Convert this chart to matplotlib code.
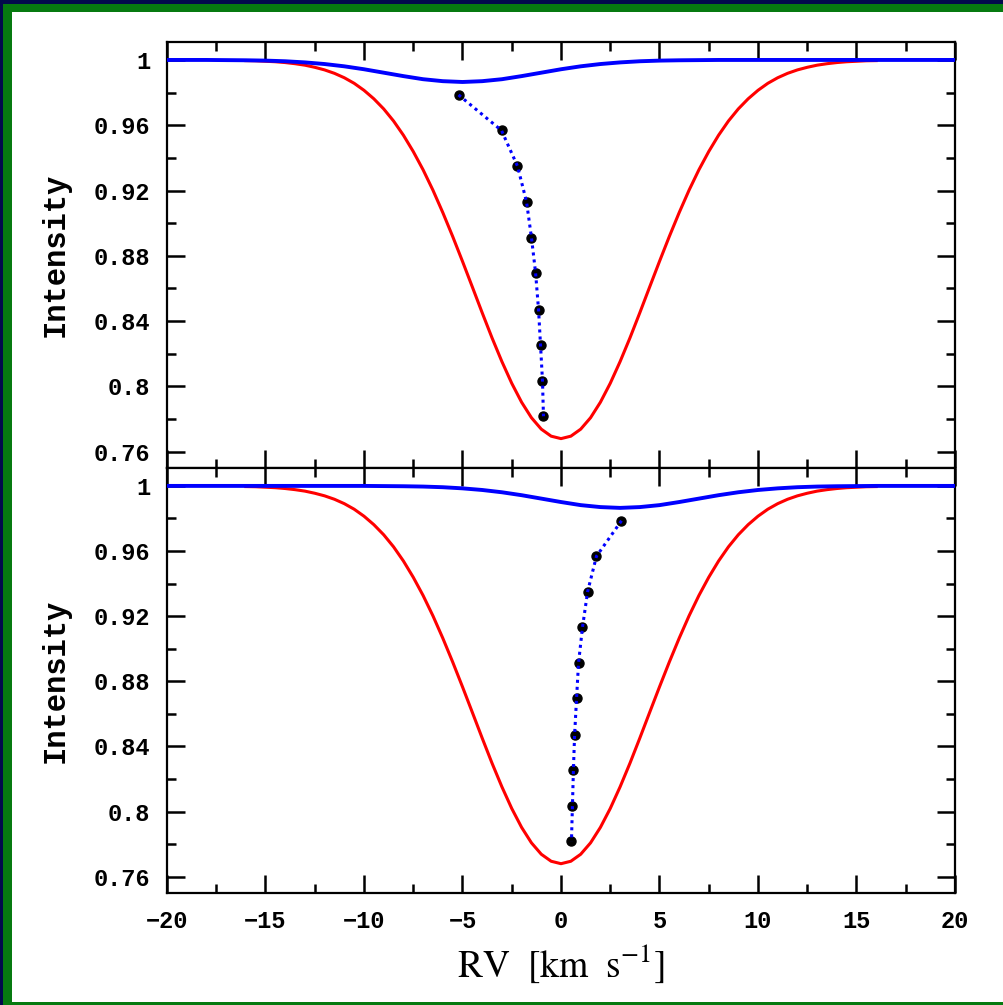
import numpy as np
import matplotlib
matplotlib.use('Agg')
import matplotlib.pyplot as plt
from matplotlib.patches import Rectangle
from matplotlib.ticker import MultipleLocator

# model line profile (red), sampled every 0.5 km/s from -16 to 16
rv_red = np.arange(-16, 16.25, 0.5)
red_int = [0.9996, 0.9995, 0.9992, 0.9989, 0.9984, 0.9977, 0.9968, 0.9955,
           0.9939, 0.9918, 0.9891, 0.9857, 0.9814, 0.9762, 0.9700, 0.9626,
           0.9539, 0.9439, 0.9327, 0.9202, 0.9065, 0.8919, 0.8766, 0.8609,
           0.8451, 0.8297, 0.8152, 0.8019, 0.7903, 0.7808, 0.7738, 0.7695,
           0.7680,
           0.7695, 0.7738, 0.7808, 0.7903, 0.8019, 0.8152, 0.8297, 0.8451,
           0.8609, 0.8766, 0.8919, 0.9065, 0.9202, 0.9327, 0.9439, 0.9539,
           0.9626, 0.9700, 0.9762, 0.9814, 0.9857, 0.9891, 0.9918, 0.9939,
           0.9955, 0.9968, 0.9977, 0.9984, 0.9989, 0.9992, 0.9995, 0.9996]

# shallow blue profiles, every 1 km/s from -20 to 20
rv_blue = np.arange(-20, 21, 1)
blue_top = [1.0, 1.0, 1.0, 0.9999, 0.9998, 0.9996, 0.9992, 0.9985, 0.9975,
            0.9961, 0.9943, 0.9922, 0.9901, 0.9882, 0.9870, 0.9865, 0.9870,
            0.9882, 0.9901, 0.9922, 0.9943, 0.9961, 0.9975, 0.9985, 0.9992,
            0.9996, 0.9998, 0.9999, 1.0, 1.0, 1.0, 1.0, 1.0, 1.0, 1.0, 1.0,
            1.0, 1.0, 1.0, 1.0, 1.0]
blue_bot = [1.0, 1.0, 1.0, 1.0, 1.0, 1.0, 1.0, 1.0, 1.0, 1.0, 1.0,
            0.9999, 0.9998, 0.9996, 0.9992, 0.9985, 0.9975, 0.9961, 0.9943,
            0.9922, 0.9901, 0.9882, 0.9870, 0.9865, 0.9870, 0.9882, 0.9901,
            0.9922, 0.9943, 0.9961, 0.9975, 0.9985, 0.9992, 0.9996, 0.9998,
            0.9999, 1.0, 1.0, 1.0, 1.0, 1.0]

# bisector points
bis_int = [0.9786, 0.9568, 0.9350, 0.9131, 0.8912, 0.8696, 0.8470, 0.8255, 0.8034, 0.7817]
bis_top = [-5.20, -3.02, -2.21, -1.75, -1.50, -1.29, -1.14, -1.04, -0.94, -0.89]
bis_bot = [3.07, 1.80, 1.35, 1.09, 0.89, 0.79, 0.69, 0.63, 0.58, 0.53]

plt.rcParams['mathtext.fontset'] = 'stix'

W, H = 1004, 1005
fig = plt.figure(figsize=(W / 100, H / 100), dpi=100, facecolor='white')

# navy strips, then green frame on left / top / bottom
navy, green = '#020a4c', '#067a10'
def strip(x0, y0, w, h, c):
    fig.add_artist(Rectangle((x0 / W, 1 - (y0 + h) / H), w / W, h / H,
                             transform=fig.transFigure, facecolor=c,
                             edgecolor='none', zorder=-10))
strip(0, 0, W, 4, navy)
strip(0, 0, 3, H, navy)
strip(3, 4, W - 3, 8, green)
strip(3, 4, 9, H - 4, green)
strip(3, H - 3, W - 3, 3, green)

left = 167 / W
width = 788 / W
ax1 = fig.add_axes([left, 1 - 468 / H, width, 426 / H])
ax2 = fig.add_axes([left, 1 - 893 / H, width, 425 / H])

tickfont = dict(family='Liberation Mono', weight='bold', size=17)

for ax, blue, bis in [(ax1, blue_top, bis_top), (ax2, blue_bot, bis_bot)]:
    ax.plot(rv_red, red_int, color='#ff0000', lw=2.2, zorder=2)
    ax.plot(rv_blue, blue, color='#0000ff', lw=2.8, zorder=3)
    ax.plot(bis, bis_int, 'o', color='black', ms=6.5, zorder=4)
    ax.plot(bis, bis_int, color='#0000ff', lw=2.2, linestyle=(0, (1, 1.3)), zorder=5)
    ax.set_xlim(-20, 20)
    ax.set_ylim(0.750, 1.011)
    ax.xaxis.set_major_locator(MultipleLocator(5))
    ax.xaxis.set_minor_locator(MultipleLocator(2.5))
    ax.yaxis.set_major_locator(MultipleLocator(0.04))
    ax.yaxis.set_minor_locator(MultipleLocator(0.02))
    ax.tick_params(which='both', direction='in', top=True, right=True, width=1.8, color='black')
    ax.tick_params(which='major', length=13, pad=12)
    ax.tick_params(which='minor', length=6.5)
    for s in ax.spines.values():
        s.set_linewidth(1.6)
    ax.set_yticks([0.76, 0.8, 0.84, 0.88, 0.92, 0.96, 1.0])
    ax.set_yticklabels(['0.76', '0.8', '0.84', '0.88', '0.92', '0.96', '1'], fontdict=tickfont)
    ax.set_ylabel('Intensity', family='Liberation Mono', weight='bold', size=22)
    ax.yaxis.set_label_coords(-0.122, 0.5)

ax1.tick_params(labelbottom=False)
ax2.set_xticks([-20, -15, -10, -5, 0, 5, 10, 15, 20])
ax2.set_xticklabels(['\u221220', '\u221215', '\u221210', '\u22125', '0', '5', '10', '15', '20'],
                    fontdict=tickfont)
ax2.set_xlabel(r'$\mathrm{RV\ \ [km\ \ s^{-1}]}$', size=27, labelpad=7)

plt.savefig('out.png', dpi=100, facecolor=fig.get_facecolor())
